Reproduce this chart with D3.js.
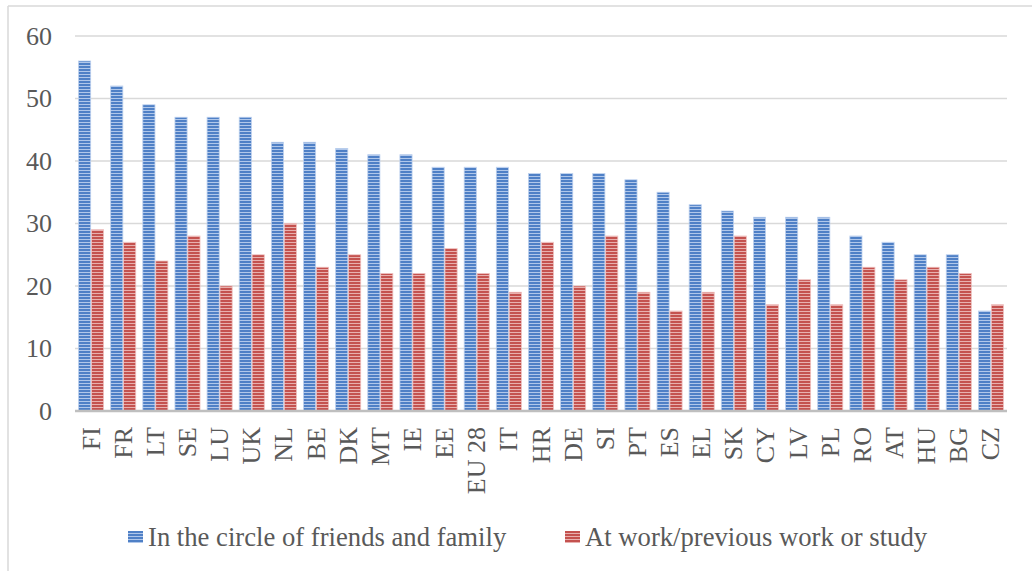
<!DOCTYPE html>
<html>
<head>
<meta charset="utf-8">
<script src="https://cdn.jsdelivr.net/npm/d3@7"></script>
<style>
  html, body { margin: 0; padding: 0; background: #fff; }
  svg { display: block; }
  svg text { font-family: "Liberation Serif", "Times New Roman", serif !important; fill: #595959; }
</style>
</head>
<body>
<svg id="chart" width="1032" height="571"></svg>
<script>
// Country codes along the x axis
const categories = ["FI","FR","LT","SE","LU","UK","NL","BE","DK","MT","IE","EE","EU 28","IT","HR","DE","SI","PT","ES","EL","SK","CY","LV","PL","RO","AT","HU","BG","CZ"];
// Share (%) per country, one array per series
const friendsFamily = [56,52,49,47,47,47,43,43,42,41,41,39,39,39,38,38,38,37,35,33,32,31,31,31,28,27,25,25,16];
const workStudy     = [29,27,24,28,20,25,30,23,25,22,22,26,22,19,27,20,28,19,16,19,28,17,21,17,23,21,23,22,17];
const seriesNames = ["In the circle of friends and family", "At work/previous work or study"];
const yTicks = [0,10,20,30,40,50,60];

const svg = d3.select("#chart");

// Outer frame (top and left edges only are visible)
svg.append("line").attr("x1", 8).attr("x2", 1032).attr("y1", 6).attr("y2", 6)
  .attr("stroke", "#d9d9d9").attr("stroke-width", 1.5);
svg.append("line").attr("x1", 8).attr("x2", 8).attr("y1", 6).attr("y2", 571)
  .attr("stroke", "#d9d9d9").attr("stroke-width", 1.5);

// Striped fills for the two series
const defs = svg.append("defs");
const palettes = [
  { id: "stripeBlue", dark: "#4f80c6", light: "#b0c7ea" },
  { id: "stripeRed",  dark: "#c4524f", light: "#e8b0ae" }
];
palettes.forEach(p => {
  const pat = defs.append("pattern").attr("id", p.id)
    .attr("patternUnits", "userSpaceOnUse").attr("width", 4).attr("height", 3);
  pat.append("rect").attr("width", 4).attr("height", 3).attr("fill", p.light);
  pat.append("rect").attr("width", 4).attr("height", 2).attr("fill", p.dark);
});

const plot = { left: 75, right: 1007, top: 36, bottom: 411 };

const y = d3.scaleLinear().domain([0, 60]).range([plot.bottom, plot.top]);
const x0 = d3.scaleBand().domain(categories).range([plot.left, plot.right]).padding(0);
const x1 = d3.scaleBand().domain([0, 1])
  .range([x0.bandwidth() * 0.11, x0.bandwidth() * 0.89]).paddingInner(0.06);

// Horizontal gridlines
svg.append("g").selectAll("line").data(yTicks.filter(t => t > 0)).join("line")
  .attr("x1", plot.left).attr("x2", plot.right)
  .attr("y1", d => y(d)).attr("y2", d => y(d))
  .attr("stroke", "#d9d9d9").attr("stroke-width", 1.5);

// Y axis labels
const yAxis = d3.axisLeft(y).tickValues(yTicks).tickSize(0).tickPadding(0);
const yg = svg.append("g").attr("transform", `translate(${plot.left - 23},0)`).call(yAxis)
  .attr("font-family", null).attr("font-size", null);
yg.select(".domain").remove();
yg.selectAll("text").attr("font-size", 26).attr("fill", "#595959");

// Bars
const rows = categories.map((c, i) => ({ c, vals: [friendsFamily[i], workStudy[i]] }));
const groups = svg.append("g").selectAll("g").data(rows).join("g")
  .attr("transform", d => `translate(${x0(d.c)},0)`);
groups.selectAll("rect").data(d => d.vals.map((v, k) => ({ v, k }))).join("rect")
  .attr("x", d => x1(d.k))
  .attr("width", x1.bandwidth())
  .attr("y", d => y(d.v))
  .attr("height", d => y(0) - y(d.v))
  .attr("fill", d => `url(#${palettes[d.k].id})`)
  .attr("stroke", d => d.k === 0 ? "#bcd0ee" : "#eec0bf")
  .attr("stroke-width", 0.8);

// Category axis
const xAxis = d3.axisBottom(x0).tickSize(0).tickPadding(0);
const xg = svg.append("g").attr("transform", `translate(0,${plot.bottom})`).call(xAxis)
  .attr("font-family", null).attr("font-size", null);
xg.select(".domain").remove();
xg.selectAll("text")
  .attr("font-size", 26).attr("fill", "#595959")
  .attr("text-anchor", "end")
  .attr("dy", null).attr("y", 0)
  .attr("transform", "translate(0,16) rotate(-90)")
  .attr("dominant-baseline", "central");

svg.append("line").attr("x1", plot.left).attr("x2", plot.right)
  .attr("y1", y(0)).attr("y2", y(0))
  .attr("stroke", "#bfbfbf").attr("stroke-width", 2.5);

// Legend
const legendX = [128, 565];
const lg = svg.append("g").selectAll("g").data(seriesNames).join("g")
  .attr("transform", (d, i) => `translate(${legendX[i]},531)`);
lg.append("rect").attr("width", 15).attr("height", 12)
  .attr("fill", (d, i) => `url(#${palettes[i].id})`);
lg.append("text").attr("x", 20).attr("y", 14.5).attr("font-size", 26.67).text(d => d);
</script>
</body>
</html>
